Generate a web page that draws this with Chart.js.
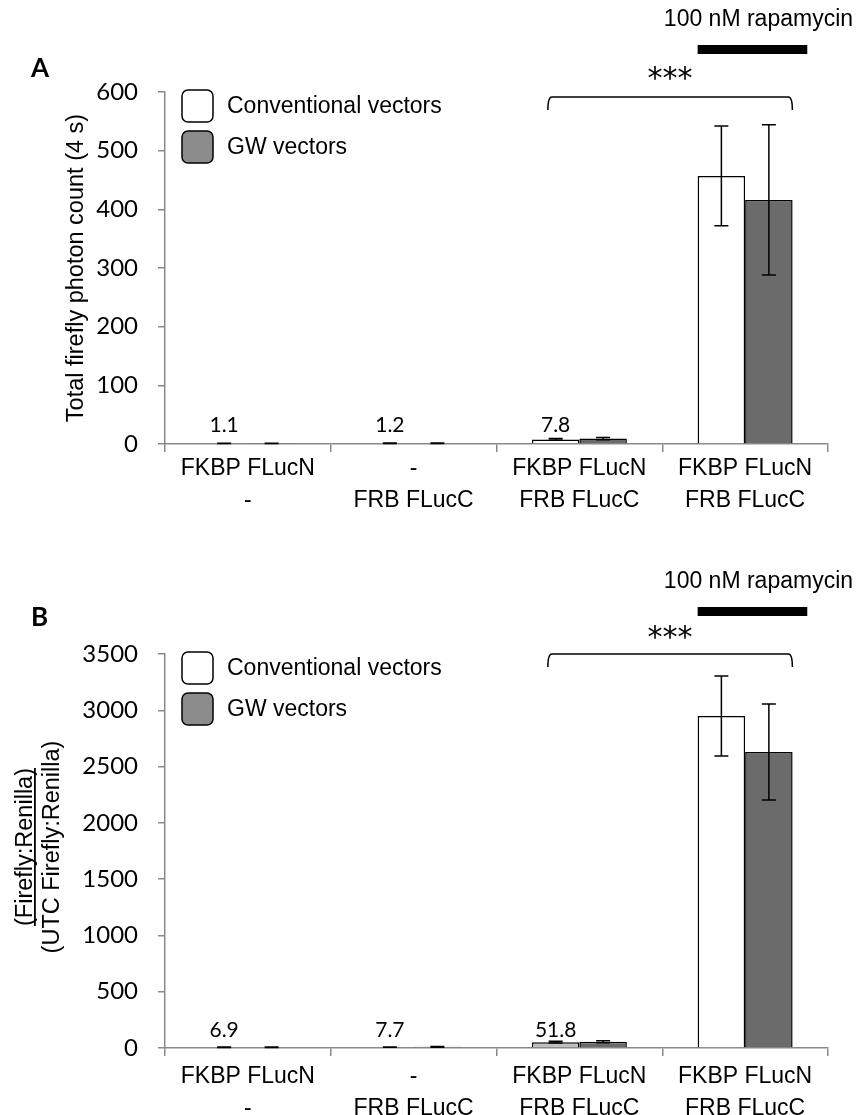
<!DOCTYPE html>
<html>
<head>
<meta charset="utf-8">
<script src="https://cdn.jsdelivr.net/npm/chart.js@4.4.1/dist/chart.umd.min.js"></script>
<style>
  html, body { margin: 0; padding: 0; background: #fff; }
  #page { position: relative; width: 859px; height: 1115px; overflow: hidden; }
  .panel { position: absolute; left: 0; }
  #panelA { top: 0; }
  #panelB { top: 530px; }
</style>
</head>
<body>
<div id="page">
  <div class="panel" id="panelA"><canvas id="chartA" width="859" height="530"></canvas></div>
  <div class="panel" id="panelB"><canvas id="chartB" width="859" height="585"></canvas></div>
</div>
<script>
const categories = [
  ["FKBP FLucN", "-"],
  ["-", "FRB FLucC"],
  ["FKBP FLucN", "FRB FLucC"],
  ["FKBP FLucN", "FRB FLucC"]
];
const seriesNames = ["Conventional vectors", "GW vectors"];

// A: total firefly photon count (4 s)
const photonConv = [1.1, 1.2, 7.8, 457];
const photonConvErr = [0.3, 0.3, 1.4, 85];
const photonGW = [1.0, 1.3, 9.2, 416];
const photonGWErr = [0.3, 0.4, 1.8, 128];
const photonTicks = [0, 100, 200, 300, 400, 500, 600];

// B: firefly:renilla normalised to UTC
const ratioConv = [6.9, 7.7, 51.8, 2949];
const ratioConvErr = [1.5, 2, 8, 355];
const ratioGW = [6.6, 10, 56, 2629];
const ratioGWErr = [1.5, 3, 9, 427];
const ratioTicks = [0, 500, 1000, 1500, 2000, 2500, 3000, 3500];

const sigLabel = "***";
const drugLabel = "100 nM rapamycin";

const ARIAL = '"Liberation Sans", Arial, sans-serif';
const NUM = 'Lato, "Open Sans", sans-serif';
const AXIS_GRAY = "#898989";

// error bars, labels, legend, bracket and titles
const decor = {
  id: "decor",
  afterDraw(chart, args, o) {
    const { ctx, chartArea } = chart;
    const x = chart.scales.x, y = chart.scales.y;
    const catW = (x.right - x.left) / categories.length;
    ctx.save();

    // error bars
    ctx.strokeStyle = "#000";
    ctx.lineWidth = 1.5;
    chart.data.datasets.forEach((ds, d) => {
      chart.getDatasetMeta(d).data.forEach((bar, i) => {
        const v = ds.data[i], e = ds.errors[i];
        const hi = y.getPixelForValue(v + e);
        const lo = y.getPixelForValue(Math.max(v - e, 0));
        ctx.beginPath();
        ctx.moveTo(bar.x, hi); ctx.lineTo(bar.x, lo);
        ctx.moveTo(bar.x - 7, hi); ctx.lineTo(bar.x + 7, hi);
        ctx.moveTo(bar.x - 7, lo); ctx.lineTo(bar.x + 7, lo);
        ctx.stroke();
      });
    });

    // value labels over the low groups
    const conv = chart.data.datasets[0];
    const convMeta = chart.getDatasetMeta(0);
    ctx.fillStyle = "#000";
    ctx.font = "21px " + NUM;
    ctx.textAlign = "center";
    ctx.textBaseline = "middle";
    for (let i = 0; i < 3; i++) {
      ctx.fillText(conv.data[i].toFixed(1), convMeta.data[i].x, chartArea.bottom - o.labelLift);
    }

    // legend
    const swatches = ["#ffffff", "#8c8c8c"];
    const legendY = [chartArea.top - 2, chartArea.top + 39];
    ctx.font = "23px " + ARIAL;
    ctx.textAlign = "left";
    seriesNames.forEach((name, i) => {
      ctx.beginPath();
      ctx.roundRect(182, legendY[i], 31, 32, 6);
      ctx.fillStyle = swatches[i];
      ctx.fill();
      ctx.lineWidth = 1.5;
      ctx.strokeStyle = "#000";
      ctx.stroke();
      ctx.fillStyle = "#000";
      ctx.fillText(name, 227, legendY[i] + 17);
    });

    // significance bracket
    const bl = x.getPixelForValue(2) - 0.19 * catW;
    const br = x.getPixelForValue(3) + 0.285 * catW;
    const by = chartArea.top + o.bracketDy;
    ctx.beginPath();
    ctx.moveTo(bl, by + 13);
    ctx.quadraticCurveTo(bl, by, bl + 4, by);
    ctx.lineTo(br - 4, by);
    ctx.quadraticCurveTo(br, by, br, by + 13);
    ctx.lineWidth = 1.5;
    ctx.stroke();
    ctx.font = '30px "DejaVu Sans", sans-serif';
    ctx.textAlign = "center";
    ctx.fillText(sigLabel, (bl + br) / 2, chartArea.top - o.starsLift);

    // rapamycin bar
    const last = convMeta.data[3];
    const rl = last.x - last.width / 2;
    const rr = x.getPixelForValue(3) + 0.375 * catW;
    ctx.fillRect(rl, chartArea.top - 47, rr - rl, 9);
    ctx.font = "23px " + ARIAL;
    ctx.fillText(drugLabel, (rl + rr) / 2 + 6, chartArea.top - 72);

    // panel letter
    ctx.font = "bold 26px " + NUM;
    ctx.textAlign = "left";
    ctx.fillText(o.letter, 31, o.letterY);

    // y axis title, rotated
    ctx.font = "23.5px " + ARIAL;
    ctx.textBaseline = "alphabetic";
    ctx.textAlign = "center";
    o.titleLines.forEach(line => {
      ctx.save();
      ctx.translate(line.x, o.titleY);
      ctx.rotate(-Math.PI / 2);
      ctx.fillText(line.text, 0, 0);
      if (line.underline) {
        const w = ctx.measureText(line.text).width;
        ctx.fillRect(-w / 2, 2, w, 1.8);
      }
      ctx.restore();
    });

    ctx.restore();
  }
};

function makeChart(id, cfg) {
  return new Chart(document.getElementById(id), {
    type: "bar",
    data: {
      labels: categories,
      datasets: [
        {
          label: seriesNames[0],
          data: cfg.conv,
          errors: cfg.convErr,
          backgroundColor: cfg.convFill,
          borderColor: "#000",
          borderWidth: 1.5,
          borderSkipped: "start"
        },
        {
          label: seriesNames[1],
          data: cfg.gw,
          errors: cfg.gwErr,
          backgroundColor: "#6b6b6b",
          borderColor: "#000",
          borderWidth: 1.5,
          borderSkipped: "start"
        }
      ]
    },
    options: {
      responsive: false,
      animation: false,
      layout: { padding: { left: 0, right: 31, top: cfg.top, bottom: 0 } },
      datasets: { bar: { barPercentage: 1, categoryPercentage: 0.573 } },
      scales: {
        x: {
          z: 1,
          grid: { drawOnChartArea: false, drawTicks: true, tickLength: 8, color: AXIS_GRAY, lineWidth: 1.5 },
          border: { color: AXIS_GRAY, width: 1.5 },
          ticks: {
            color: "#000",
            padding: cfg.xPad,
            maxRotation: 0,
            autoSkip: false,
            font: { family: ARIAL, size: 23, lineHeight: 1.37 }
          },
          afterFit: s => { s.height = cfg.xHeight; }
        },
        y: {
          min: cfg.ticks[0],
          max: cfg.ticks[cfg.ticks.length - 1],
          afterBuildTicks: s => { s.ticks = cfg.ticks.map(v => ({ value: v })); },
          grid: { drawOnChartArea: false, drawTicks: true, tickLength: 7, color: AXIS_GRAY, lineWidth: 1.5 },
          border: { color: AXIS_GRAY, width: 1.5 },
          ticks: {
            color: "#000",
            padding: 20,
            font: { family: NUM, size: 24 },
            callback: v => String(v)
          },
          afterFit: s => { s.width = 165; }
        }
      },
      plugins: {
        legend: { display: false },
        tooltip: { enabled: false },
        decor: cfg.decor
      }
    },
    plugins: [decor]
  });
}

makeChart("chartA", {
  conv: photonConv, convErr: photonConvErr,
  gw: photonGW, gwErr: photonGWErr,
  convFill: ["#ffffff", "#ffffff", "#ffffff", "#ffffff"],
  ticks: photonTicks,
  top: 92, xHeight: 86, xPad: 1,
  decor: {
    letter: "A", letterY: 69,
    labelLift: 19, bracketDy: 5, starsLift: 12,
    titleY: 268,
    titleLines: [{ text: "Total firefly photon count (4 s)", x: 83 }]
  }
});

makeChart("chartB", {
  conv: ratioConv, convErr: ratioConvErr,
  gw: ratioGW, gwErr: ratioGWErr,
  convFill: ["#ffffff", "#ffffff", "#c0c0c0", "#ffffff"],
  ticks: ratioTicks,
  top: 124, xHeight: 67, xPad: 5,
  decor: {
    letter: "B", letterY: 88,
    labelLift: 18, bracketDy: 0, starsLift: 15,
    titleY: 317,
    titleLines: [
      { text: "(Firefly:Renilla)", x: 32, underline: true },
      { text: "(UTC Firefly:Renilla)", x: 59 }
    ]
  }
});
</script>
</body>
</html>
